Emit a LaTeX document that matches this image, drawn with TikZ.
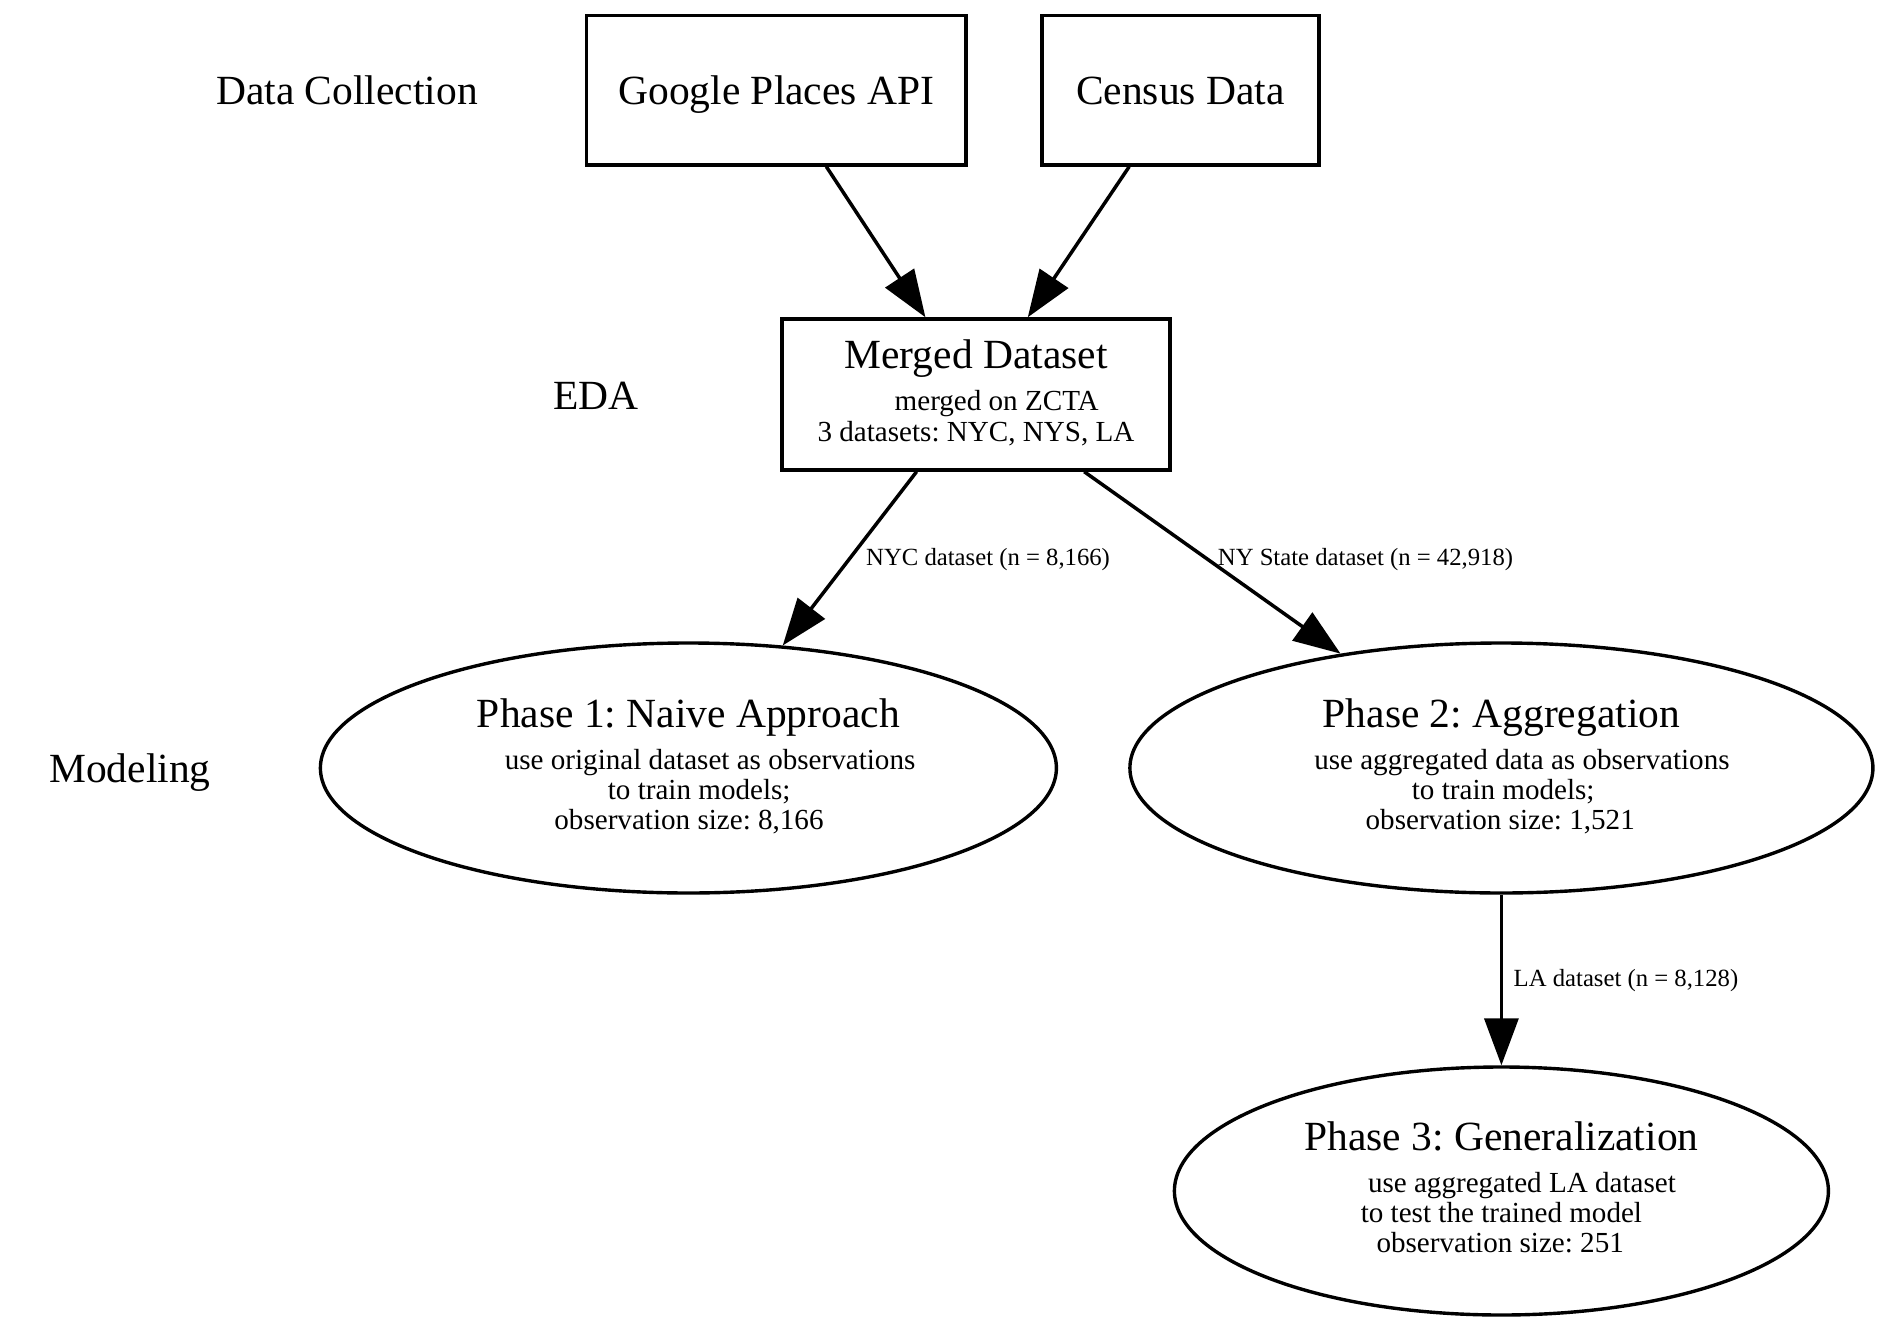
\documentclass[tikz,border=0pt]{standalone}
\usepackage{fontspec}
\setmainfont{Liberation Serif}
\usetikzlibrary{shapes.geometric,arrows.meta}
\frenchspacing
\begin{document}
\frenchspacing
\begin{tikzpicture}[x=1pt,y=-1pt,
  boxnode/.style={draw,line width=3.4pt,rectangle,inner sep=0pt},
  ellnode/.style={draw,line width=3.4pt,ellipse,inner sep=0pt,minimum height=250pt},
  big/.style={font=\frenchspacing\fontsize{41.5}{48}\selectfont,anchor=base,inner sep=0pt},
  small/.style={font=\frenchspacing\fontsize{29.1}{34}\selectfont,anchor=base,inner sep=0pt},
  elabel/.style={font=\frenchspacing\fontsize{24.7}{29}\selectfont,anchor=base west,inner sep=0pt},
  conn/.style={line width=3.5pt,-{Triangle[length=47pt,width=34pt]}}
]
\useasboundingbox (0,0) rectangle (1889,1332);

% rank labels
\node[big] (lcollect) at (347,105) {Data Collection};
\node[big] (leda) at (596,409) {EDA};
\node[big] (lmodel) at (130,782) {Modeling};

% shapes
\node[boxnode,minimum width=379.4pt,minimum height=149.3pt] (google) at (776.3,90.3) {};
\node[boxnode,minimum width=277pt,minimum height=149.3pt] (census) at (1180.4,90.3) {};
\node[boxnode,minimum width=388pt,minimum height=151pt] (merged) at (976,394.5) {};
\node[ellnode,minimum width=736pt] (p1) at (688.4,768) {};
\node[ellnode,minimum width=743pt] (p2) at (1501.4,768) {};
\node[ellnode,minimum width=654pt,minimum height=248pt] (p3) at (1501.4,1191) {};

% texts
\node[big] (googlet) at (776.3,105) {Google Places API};
\node[big] (censust) at (1180.4,105) {Census Data};

\node[big] (mergedt) at (976,368.3) {Merged Dataset};
\node[small] (mergeda) at (996.7,410) {merged on ZCTA};
\node[small] (mergedb) at (976,441.7) {3 datasets: NYC, NYS, LA};

\node[big] (p1t) at (688.4,727) {Phase 1: Naive Approach};
\node[small] (p1a) at (710.1,769.5) {use original dataset as observations};
\node[small] (p1b) at (699.2,799) {to train models;};
\node[small] (p1c) at (689,829) {observation size: 8,166};

\node[big] (p2t) at (1501.4,727) {Phase 2: Aggregation};
\node[small] (p2a) at (1521.9,769.5) {use aggregated data as observations};
\node[small] (p2b) at (1503.2,799) {to train models;};
\node[small] (p2c) at (1500.2,829) {observation size: 1,521};

\node[big] (p3t) at (1501.4,1150) {Phase 3: Generalization};
\node[small] (p3a) at (1521.9,1192.5) {use aggregated LA dataset};
\node[small] (p3b) at (1501.4,1222) {to test the trained model};
\node[small] (p3c) at (1500.2,1252) {observation size: 251};

% connectors
\draw[conn] (google) -- (merged);
\draw[conn] (census) -- (merged);
\draw[conn] (merged) -- (p1);
\draw[conn] (merged) -- (p2);
\draw[conn] (p2) -- (p3);

% edge labels
\node[elabel] (e1) at (866,565) {NYC dataset (n = 8,166)};
\node[elabel] (e2) at (1217.7,565) {NY State dataset (n = 42,918)};
\node[elabel] (e3) at (1513.5,986.7) {LA dataset (n = 8,128)};
\end{tikzpicture}
\end{document}
